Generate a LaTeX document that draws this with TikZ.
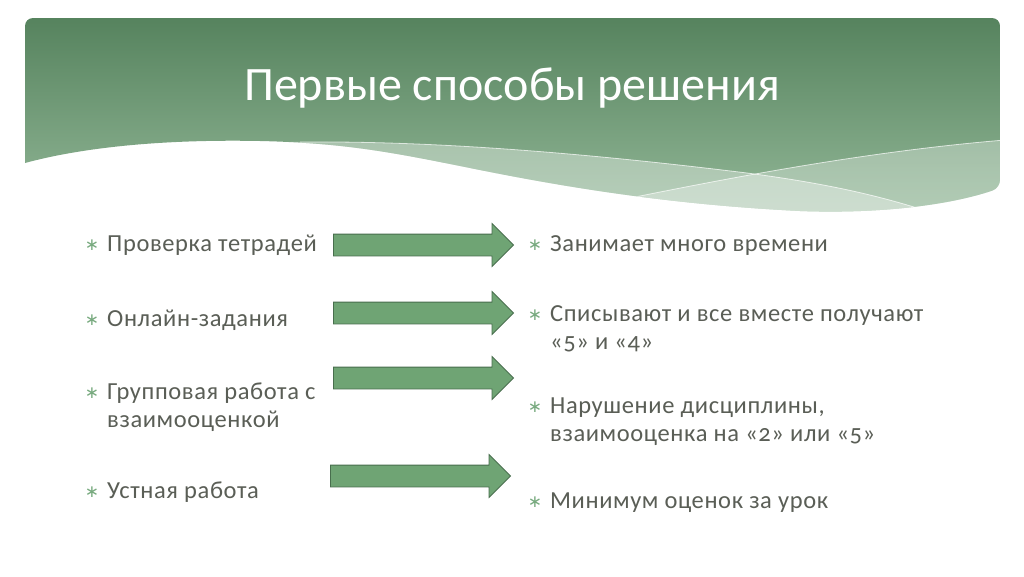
\documentclass[tikz,border=0pt]{standalone}
\usepackage{fontspec}
\setmainfont{Carlito}[Numbers=OldStyle]
\newfontfamily\spacedfont{Carlito}[Numbers=OldStyle,LetterSpace=2.5]
\newfontfamily\bulfont{DejaVu Sans}
\usetikzlibrary{shapes.arrows}
\definecolor{bantop}{RGB}{86,131,94}
\definecolor{banbot}{RGB}{146,183,151}
\definecolor{arrfill}{RGB}{111,164,116}
\definecolor{arrline}{RGB}{72,110,77}
\definecolor{txtgray}{RGB}{90,94,86}
\definecolor{bulgreen}{RGB}{120,170,127}
\newcommand{\bul}{\llap{\raisebox{1pt}{\bulfont\color{bulgreen}\fontsize{17}{17}\selectfont ∗}\hspace{8pt}}}
\def\banpath{(25,163) [rounded corners=8] -- (25,18) -- (1000,18) -- (1000,188) [sharp corners]
  .. controls (950,205) and (880,214) .. (800,211) .. controls (680,205) and (580,190) .. (480,170)
  .. controls (400,154) and (350,143) .. (260,141) .. controls (160,139) and (80,148) .. (25,163) -- cycle}

\begin{document}
\begin{tikzpicture}[x=1pt,y=-1pt,
  item/.style={anchor=base west,align=left,text=txtgray,font=\spacedfont\fontsize{24.5}{28}\selectfont,inner sep=0pt},
  arr/.style={single arrow,draw=arrline,fill=arrfill,line width=0.8pt,inner xsep=0pt,inner ysep=10.5pt,
    minimum height=180,minimum width=42,single arrow head extend=10.5pt,single arrow tip angle=90}]
\useasboundingbox[fill=white] (0,0) rectangle (1024,576);
% banner with the wave
\shade[top color=bantop,bottom color=banbot] \banpath;
\begin{scope}
  \clip \banpath;
  \fill[white,opacity=0.35] (290,142) .. controls (420,141) and (560,150) .. (747,173)
    .. controls (830,184) and (880,196) .. (930,212) -- (930,240) -- (280,240) -- cycle;
  \fill[white,opacity=0.3] (620,200) .. controls (720,180) and (860,152) .. (1005,140)
    -- (1010,240) -- (600,240) -- cycle;
  \draw[white,opacity=0.7,line width=0.8pt] (300,142) .. controls (420,141) and (560,150) .. (747,173)
    .. controls (830,184) and (880,196) .. (930,212);
  \draw[white,opacity=0.7,line width=0.8pt] (620,200) .. controls (720,180) and (860,152) .. (1005,140);
\end{scope}
\node[font=\fontsize{48}{48}\selectfont,text=white] (title) at (512,88) {Первые способы решения};

\node[item] (l1) at (107,251) {\bul Проверка тетрадей};
\node[item] (l2) at (107,326) {\bul Онлайн-задания};
\node[item] (l3) at (107,427) {\bul Групповая работа с\\взаимооценкой};
\node[item] (l4) at (107,498) {\bul Устная работа};
\node[item] (r1) at (550,251) {\bul Занимает много времени};
\node[item] (r2) at (550,349) {\bul Списывают и все вместе получают\\«5» и «4»};
\node[item] (r3) at (550,441) {\bul Нарушение дисциплины,\\взаимооценка на «2» или «5»};
\node[item] (r4) at (550,508) {\bul Минимум оценок за урок};

\node[arr] (a1) at (418,245) {};
\node[arr] (a2) at (418,313) {};
\node[arr] (a3) at (418,378) {};
\node[arr] (a4) at (415,476) {};
\end{tikzpicture}
\end{document}
